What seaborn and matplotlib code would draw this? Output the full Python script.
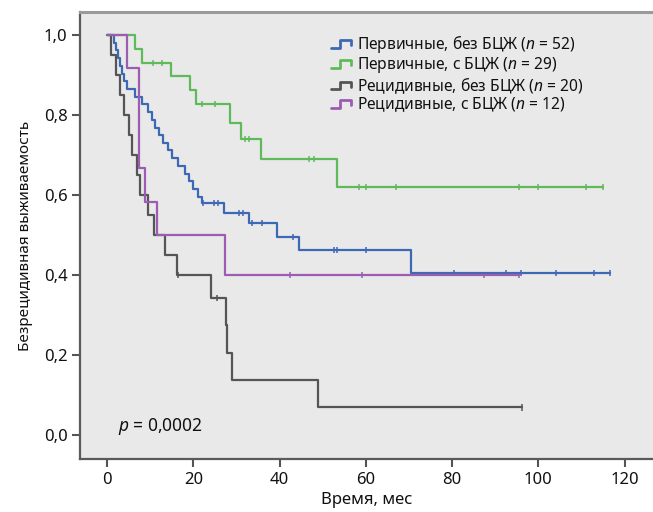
import numpy as np
import pandas as pd
import seaborn as sns
import matplotlib
matplotlib.use("Agg")
import matplotlib.pyplot as plt
from matplotlib.lines import Line2D
from matplotlib.legend_handler import HandlerLine2D

# =======================================================
#   DATOS
# =======================================================

groups = ["Первичные, без БЦЖ ($n$ = 52)",
          "Первичные, с БЦЖ ($n$ = 29)",
          "Рецидивные, без БЦЖ ($n$ = 20)",
          "Рецидивные, с БЦЖ ($n$ = 12)"]
colors = ["#3d69b4", "#5fbb5a", "#555555", "#9b5cb2"]

blue_t = [0, 1.5, 2, 2.5, 3, 3.5, 4, 4.5, 6.5, 8, 9.5, 10.5, 11.2, 12, 13, 14, 15,
          16.5, 18, 18.9, 20, 21, 22, 27, 33, 39.5, 44.4, 70.5, 116.5]
blue_s = [1, 0.981, 0.962, 0.942, 0.923, 0.904, 0.885, 0.865, 0.846, 0.827, 0.808,
          0.788, 0.769, 0.75, 0.731, 0.712, 0.692, 0.673, 0.654, 0.635, 0.615, 0.596,
          0.58, 0.555, 0.53, 0.495, 0.463, 0.405, 0.405]
blue_cens = [22.3, 24.7, 25.6, 30.5, 31.6, 33.7, 36, 43, 52.6, 53.4, 60,
             80.5, 92.5, 96, 104, 112.8, 116.5]

green_t = [0, 6.5, 8, 14.7, 19.1, 20.7, 28.6, 31, 35.6, 53.4, 115]
green_s = [1, 0.966, 0.931, 0.897, 0.862, 0.828, 0.78, 0.74, 0.69, 0.62, 0.62]
green_cens = [10.7, 12.8, 22, 25, 32, 33, 46.7, 48, 58.4, 60, 67, 95.6, 100, 111, 115]

black_t = [0, 1, 2, 3, 4, 5, 5.7, 6.9, 7.7, 9.5, 10.8, 13.3, 16.2, 24, 27.5, 27.8,
           29, 49, 96.3]
black_s = [1, 0.95, 0.9, 0.85, 0.8, 0.75, 0.7, 0.65, 0.6, 0.55, 0.5, 0.45, 0.4,
           0.343, 0.274, 0.206, 0.137, 0.069, 0.069]
black_cens = [16.5, 25.5, 96.3]

purple_t = [0, 4.6, 7.3, 8.8, 11.5, 27.3, 95.5]
purple_s = [1, 0.917, 0.667, 0.583, 0.5, 0.4, 0.4]
purple_cens = [42.5, 59, 87.5, 95.5]

x_ticks = [0, 20, 40, 60, 80, 100, 120]
y_ticks = [0.0, 0.2, 0.4, 0.6, 0.8, 1.0]
y_tick_labels = ["0,0", "0,2", "0,4", "0,6", "0,8", "1,0"]


# =======================================================
#   PREPARACIÓN
# =======================================================

series = [(blue_t, blue_s, blue_cens), (green_t, green_s, green_cens),
          (black_t, black_s, black_cens), (purple_t, purple_s, purple_cens)]

curvas, censuras = [], []
for nombre, (t, s, c) in zip(groups, series):
    curvas.append(pd.DataFrame({"tiempo": t, "superv": s, "grupo": nombre}))
    idx = np.searchsorted(t, c, side="right") - 1
    censuras.append(pd.DataFrame({"tiempo": c, "superv": np.array(s)[idx], "grupo": nombre}))
df_curvas = pd.concat(curvas, ignore_index=True)
df_cens = pd.concat(censuras, ignore_index=True)
paleta = dict(zip(groups, colors))


class StepHandler(HandlerLine2D):
    """Icono de leyenda en forma de escalón."""
    def create_artists(self, legend, orig_handle, xdescent, ydescent, width, height,
                       fontsize, trans):
        x0, y0 = -xdescent, -ydescent
        xs = [x0, x0 + 0.45 * width, x0 + 0.45 * width, x0 + width, x0 + width]
        ys = [y0 + 0.15 * height, y0 + 0.15 * height, y0 + 0.85 * height,
              y0 + 0.85 * height, y0 + 0.4 * height]
        line = Line2D(xs, ys, color=orig_handle.get_color(), lw=2)
        line.set_transform(trans)
        return [line]


# =======================================================
#   GRÁFICO
# =======================================================

sns.set_theme(style="ticks")
plt.rcParams["font.family"] = ["Noto Sans", "DejaVu Sans"]
plt.rcParams["mathtext.fontset"] = "custom"
plt.rcParams["mathtext.rm"] = "Noto Sans"
plt.rcParams["mathtext.it"] = "Noto Sans:italic"

fig = plt.figure(figsize=(6.53, 5.12), dpi=100)
ax = fig.add_axes([0.1225, 0.1035, 0.877, 0.873])
ax.set_facecolor("#e9e9e9")

sns.lineplot(data=df_curvas, x="tiempo", y="superv", hue="grupo", palette=paleta,
             estimator=None, sort=False, drawstyle="steps-post", linewidth=1.6, ax=ax)
sns.scatterplot(data=df_cens, x="tiempo", y="superv", hue="grupo", palette=paleta,
                marker="|", s=20, linewidth=1.1, legend=False, ax=ax)

ax.set_xlim(-6.3, 126.5)
ax.set_ylim(-0.06, 1.058)
ax.set_xticks(x_ticks)
ax.set_yticks(y_ticks)
ax.set_yticklabels(y_tick_labels)
ax.tick_params(axis="both", direction="out", length=6, width=1.5, color="#555555",
               labelsize=12, labelcolor="#111111", pad=3)

for lado in ["left", "bottom"]:
    ax.spines[lado].set_color("#5a5a5a")
    ax.spines[lado].set_linewidth(1.6)
ax.spines["top"].set_color("#9a9a9a")
ax.spines["top"].set_linewidth(2.2)
ax.spines["right"].set_visible(False)

ax.set_xlabel("Время, мес", fontsize=12, color="#111111", labelpad=3)
ax.set_ylabel("Безрецидивная выживаемость", fontsize=11, color="#111111", labelpad=8)

ax.text(2.5, -0.005, "$p$ = 0,0002", fontsize=12.5, color="#111111", va="bottom")

handles, labels = ax.get_legend_handles_labels()
ax.legend(handles, labels, handler_map={Line2D: StepHandler()}, loc="upper left",
          bbox_to_anchor=(0.425, 0.97), frameon=False, fontsize=11.2,
          handlelength=1.3, handletextpad=0.35, labelspacing=0.0, borderpad=0,
          labelcolor="#111111")

plt.savefig("out.png", dpi=100)
plt.close()
